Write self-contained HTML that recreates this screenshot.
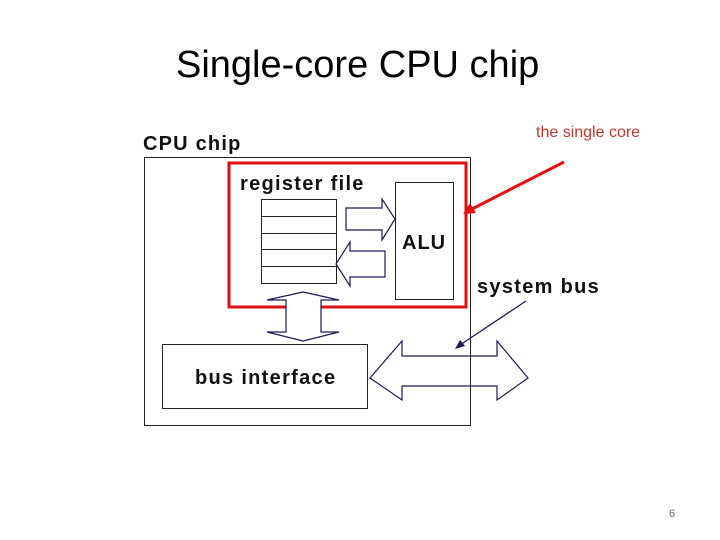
<!DOCTYPE html>
<html><head><style>
body{margin:0;width:720px;height:540px;background:#fff;overflow:hidden;position:relative;font-family:"Liberation Sans",sans-serif}
.t{position:absolute;white-space:nowrap}
</style></head><body>
<div class="t" style="left:176px;top:44px;font-size:38px;font-family:'Liberation Sans',sans-serif;color:#000">Single-core CPU chip</div>
<div class="t" style="left:536px;top:124px;font-size:16px;color:#c0392b">the single core</div>
<div class="t" style="left:669px;top:508px;font-size:11px;color:#666">6</div>
<svg width="720" height="540" style="position:absolute;left:0;top:0" font-family="Liberation Sans, sans-serif" font-weight="bold">
<text x="143" y="150" font-size="20" letter-spacing="1.2" fill="#111">CPU chip</text>
<rect x="144.5" y="157.5" width="326" height="268" fill="none" stroke="#222" stroke-width="1"/>
<rect x="229" y="163" width="237" height="144" fill="none" stroke="#d11" stroke-width="3"/>
<text x="240" y="190" font-size="20" letter-spacing="1.3" fill="#111">register file</text>
<rect x="395.5" y="182.5" width="58" height="117" fill="#fff" stroke="#222"/>
<text x="402" y="249" font-size="20" letter-spacing="1" fill="#111">ALU</text>
<g fill="#fff" stroke="#222">
<rect x="261.5" y="199.5" width="75" height="17"/>
<rect x="261.5" y="216.5" width="75" height="17"/>
<rect x="261.5" y="233.5" width="75" height="16"/>
<rect x="261.5" y="249.5" width="75" height="17"/>
<rect x="261.5" y="266.5" width="75" height="17"/>
</g>
<g fill="#fff" stroke="#1a1a5a" stroke-width="1.2">
<polygon points="346,208 382,208 382,199 395,219 382,240 382,230 346,230"/>
<polygon points="385,251 350,251 350,242 336,264 350,286 350,277 385,277"/>
<polygon points="303,292 339,300 321,300 321,332 339,332 303,341 267,332 286,332 286,300 267,300"/>
<polygon points="370,378 402,341 402,356 497,356 497,341 528,378 497,400 497,386 402,386 402,400"/>
</g>
<line x1="470.5" y1="356" x2="470.5" y2="386" stroke="#222"/>
<rect x="162.5" y="344.5" width="205" height="64" fill="#fff" stroke="#222"/>
<text x="195" y="384" font-size="20" letter-spacing="1.3" fill="#111">bus interface</text>
<text x="477" y="293" font-size="20" letter-spacing="1.3" fill="#111">system bus</text>
<line x1="526" y1="301" x2="460" y2="345" stroke="#1a1a5a" stroke-width="1.3"/>
<polygon points="455,349 460,340 465,346" fill="#1a1a5a"/>
<line x1="564" y1="162" x2="472" y2="209" stroke="#e01010" stroke-width="3"/>
<polygon points="463,214 470,203 476,213" fill="#e01010"/>
</svg>
</body></html>
